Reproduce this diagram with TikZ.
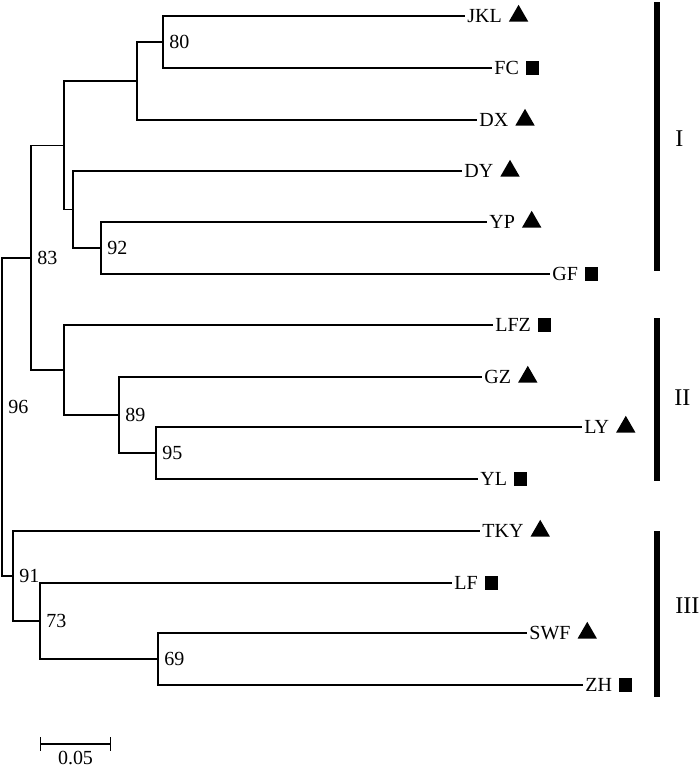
\documentclass[tikz,border=0pt]{standalone}
\usepackage{fontspec}
\setmainfont{Liberation Serif}
\usetikzlibrary{positioning,shapes.geometric}

\newcommand{\Taxon}[5]{%
\node[taxon] (#1) at (#2,#3) {#4};% name at the end of the branch
\node[#5, right=of #1] (mark#1) {};% symbol after the name
}

\begin{document}
\begin{tikzpicture}[x=0.5pt, y=-0.5pt,
branch/.style={line width=.65pt},
taxon/.style={anchor=west, inner sep=1pt, font=\fontsize{10}{12}\selectfont, text height=6.6pt, text depth=0pt},
boot/.style={anchor=west, inner sep=3pt, font=\fontsize{10}{12}\selectfont},
tri/.style={node distance=3.7pt, regular polygon, regular polygon sides=3, fill=black, inner sep=0, minimum size=11.2pt},
sq/.style={node distance=2pt, rectangle, fill=black, inner sep=0, minimum size=6.7pt},
group/.style={line width=3.3pt},
roman/.style={anchor=west, inner sep=1pt, font=\fontsize{12}{14}\selectfont},
]
\useasboundingbox (0,0) rectangle (700,767); %%%%%%% SIZE OF THE PICTURE

%%%%%%%%%%%%%%%%%%%%%%%% LEAVES %%%%%%%%%%%%%%%%%%%%%%%%%%%
\Taxon{JKL}{465}{16}{JKL}{tri}
\Taxon{FC}{492}{68}{FC}{sq}
\Taxon{DX}{477}{120}{DX}{tri}
\Taxon{DY}{462}{171}{DY}{tri}
\Taxon{YP}{487}{222}{YP}{tri}
\Taxon{GF}{550}{274}{GF}{sq}
\Taxon{LFZ}{493}{325}{LFZ}{sq}
\Taxon{GZ}{482}{377}{GZ}{tri}
\Taxon{LY}{582}{427}{LY}{tri}
\Taxon{YL}{478}{479}{YL}{sq}
\Taxon{TKY}{480}{531}{TKY}{tri}
\Taxon{LF}{452}{583}{LF}{sq}
\Taxon{SWF}{527}{633}{SWF}{tri}
\Taxon{ZH}{583}{685}{ZH}{sq}

%%%%%%%%%%%%%%%%%%%%%%%% INNER NODES %%%%%%%%%%%%%%%%%%%%%%%%%%%
\coordinate (n80) at (163,42);
\coordinate (nDX) at (137,81);
\coordinate (n92) at (101,248);
\coordinate (nDY) at (73,209.5);
\coordinate (nCladeI) at (64,145.5);
\coordinate (n83) at (31,258);
\coordinate (n95) at (156,453);
\coordinate (n89) at (119,415);
\coordinate (nLFZ) at (64,370);
\coordinate (n69) at (158,659);
\coordinate (n73) at (40,621);
\coordinate (n91) at (13,576);
\coordinate (n96) at (2,417);

%%%%%%%%%%%%%%%%%%%%%%%% BRANCHES %%%%%%%%%%%%%%%%%%%%%%%%%%%
\foreach \p/\c in {n80/JKL.west, n80/FC.west, nDX/n80, nDX/DX.west,
  n92/YP.west, n92/GF.west, nDY/DY.west, nDY/n92,
  nCladeI/nDX, nCladeI/nDY, n83/nCladeI, n83/nLFZ,
  n95/LY.west, n95/YL.west, n89/GZ.west, n89/n95,
  nLFZ/LFZ.west, nLFZ/n89,
  n69/SWF.west, n69/ZH.west, n73/LF.west, n73/n69,
  n91/TKY.west, n91/n73, n96/n83, n96/n91}
  \draw[branch] (\p) |- (\c);

%%%%%%%%% bootstrap values
\foreach \n/\v in {n80/80, n92/92, n83/83, n89/89, n95/95, n91/91, n73/73, n69/69}
  \node[boot] (b\v) at (\n) {\v};
\node[boot, yshift=5pt] (b96) at (n96) {96};

%%%%%%%%% scale bar
\coordinate (barL) at (40,744);
\coordinate (barR) at (111,744);
\draw[branch, |-|] (barL) -- (barR);
\node[boot, anchor=center, inner sep=0] (barlab) at (75.5,758) {0.05};

%%%%%%%%%%%%%%%%%%%%%%%% GROUPS %%%%%%%%%%%%%%%%%%%%%%%%%%%
\coordinate (gItop) at (657,2);
\coordinate (gIbot) at (657,271);
\coordinate (gIItop) at (657,318);
\coordinate (gIIbot) at (657,481);
\coordinate (gIIItop) at (657,531);
\coordinate (gIIIbot) at (657,697);
\draw[group] (gItop) -- (gIbot);
\draw[group] (gIItop) -- (gIIbot);
\draw[group] (gIIItop) -- (gIIIbot);
\node[roman] (gI) at (673,139) {I};
\node[roman] (gII) at (672,398) {II};
\node[roman] (gIII) at (673,606) {III};
\end{tikzpicture}
\end{document}
